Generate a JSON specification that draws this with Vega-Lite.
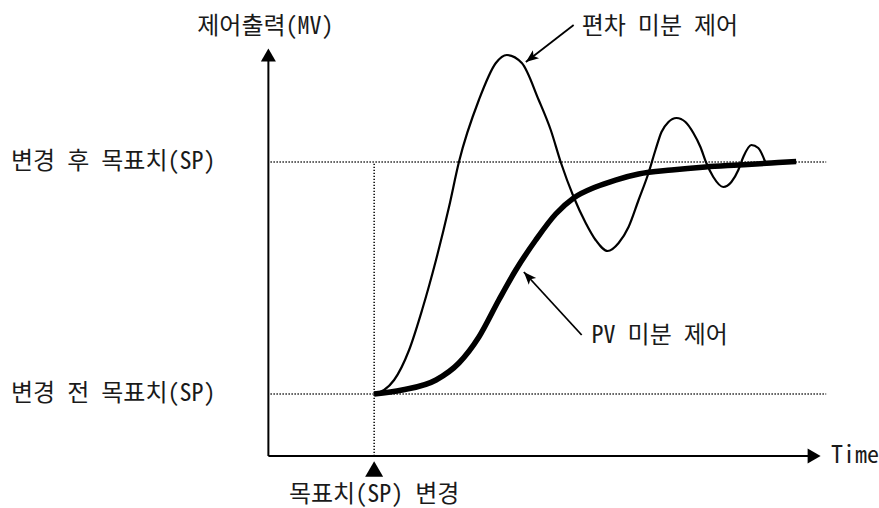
{
  "$schema": "https://vega.github.io/schema/vega-lite/v6.json",
  "width": 879,
  "height": 508,
  "autosize": {"type": "fit", "contains": "padding"},
  "padding": 0,
  "background": "white",
  "config": {
    "view": {"stroke": null},
    "text": {"font": "Noto Sans Mono CJK KR, Noto Sans CJK KR, sans-serif", "fontSize": 24, "fontWeight": 300, "color": "#1a1a1a"}
  },
  "datasets": {
    "curves": [
      {"series": "편차 미분 제어", "t": 10.02, "mv": 0},
      {"series": "편차 미분 제어", "t": 10.96, "mv": 1.72},
      {"series": "편차 미분 제어", "t": 11.91, "mv": 6.03},
      {"series": "편차 미분 제어", "t": 13.33, "mv": 18.97},
      {"series": "편차 미분 제어", "t": 14.56, "mv": 36.21},
      {"series": "편차 미분 제어", "t": 15.88, "mv": 57.76},
      {"series": "편차 미분 제어", "t": 17.11, "mv": 80.6},
      {"series": "편차 미분 제어", "t": 18.05, "mv": 100},
      {"series": "편차 미분 제어", "t": 19.94, "mv": 126.72},
      {"series": "편차 미분 제어", "t": 21.55, "mv": 142.67},
      {"series": "편차 미분 제어", "t": 22.59, "mv": 146.12},
      {"series": "편차 미분 제어", "t": 24.01, "mv": 142.67},
      {"series": "편차 미분 제어", "t": 25.61, "mv": 126.72},
      {"series": "편차 미분 제어", "t": 26.75, "mv": 113.79},
      {"series": "편차 미분 제어", "t": 27.69, "mv": 100},
      {"series": "편차 미분 제어", "t": 28.92, "mv": 84.91},
      {"series": "편차 미분 제어", "t": 30.06, "mv": 73.71},
      {"series": "편차 미분 제어", "t": 31.0, "mv": 66.38},
      {"series": "편차 미분 제어", "t": 32.14, "mv": 61.64},
      {"series": "편차 미분 제어", "t": 33.18, "mv": 65.09},
      {"series": "편차 미분 제어", "t": 34.12, "mv": 71.98},
      {"series": "편차 미분 제어", "t": 35.07, "mv": 83.62},
      {"series": "편차 미분 제어", "t": 36.01, "mv": 95.26},
      {"series": "편차 미분 제어", "t": 36.67, "mv": 105.17},
      {"series": "편차 미분 제어", "t": 37.24, "mv": 112.93},
      {"series": "편차 미분 제어", "t": 37.9, "mv": 117.24},
      {"series": "편차 미분 제어", "t": 38.66, "mv": 118.97},
      {"series": "편차 미분 제어", "t": 39.51, "mv": 117.24},
      {"series": "편차 미분 제어", "t": 40.26, "mv": 112.5},
      {"series": "편차 미분 제어", "t": 40.93, "mv": 106.47},
      {"series": "편차 미분 제어", "t": 41.49, "mv": 99.57},
      {"series": "편차 미분 제어", "t": 42.15, "mv": 93.53},
      {"series": "편차 미분 제어", "t": 43.1, "mv": 89.22},
      {"series": "편차 미분 제어", "t": 43.86, "mv": 91.38},
      {"series": "편차 미분 제어", "t": 44.52, "mv": 96.55},
      {"series": "편차 미분 제어", "t": 44.99, "mv": 102.16},
      {"series": "편차 미분 제어", "t": 45.75, "mv": 107.33},
      {"series": "편차 미분 제어", "t": 46.41, "mv": 106.03},
      {"series": "편차 미분 제어", "t": 47.07, "mv": 100},
      {"series": "PV 미분 제어", "t": 10.02, "mv": 0},
      {"series": "PV 미분 제어", "t": 12.67, "mv": 1.72},
      {"series": "PV 미분 제어", "t": 15.88, "mv": 6.03},
      {"series": "PV 미분 제어", "t": 18.05, "mv": 13.36},
      {"series": "PV 미분 제어", "t": 19.94, "mv": 24.57},
      {"series": "PV 미분 제어", "t": 21.83, "mv": 40.52},
      {"series": "PV 미분 제어", "t": 23.44, "mv": 53.45},
      {"series": "PV 미분 제어", "t": 25.33, "mv": 66.38},
      {"series": "PV 미분 제어", "t": 27.22, "mv": 77.59},
      {"series": "PV 미분 제어", "t": 28.92, "mv": 84.48},
      {"series": "PV 미분 제어", "t": 31.0, "mv": 89.22},
      {"series": "PV 미분 제어", "t": 32.89, "mv": 92.24},
      {"series": "PV 미분 제어", "t": 35.07, "mv": 94.83},
      {"series": "PV 미분 제어", "t": 38.19, "mv": 96.55},
      {"series": "PV 미분 제어", "t": 41.4, "mv": 97.84},
      {"series": "PV 미분 제어", "t": 44.52, "mv": 98.71},
      {"series": "PV 미분 제어", "t": 47.64, "mv": 99.57},
      {"series": "PV 미분 제어", "t": 50.0, "mv": 100.2}
    ],
    "levels": [
      {"label": "변경 후 목표치(SP)", "mv": 100},
      {"label": "변경 전 목표치(SP)", "mv": 0}
    ],
    "event": [
      {"label": "목표치(SP) 변경", "t": 10.02}
    ],
    "frame": [
      {"t": 0, "mv": -26.72}
    ],
    "notes": [
      {"label": "편차 미분 제어", "t": 29.68, "mv": 158.19, "from_t": 28.92, "from_mv": 159.05, "to_t": 24.39, "to_mv": 143.1},
      {"label": "PV 미분 제어", "t": 30.62, "mv": 25.0, "from_t": 29.68, "from_mv": 25.43, "to_t": 24.2, "to_mv": 52.59}
    ]
  },
  "layer": [
    {
      "data": {"name": "levels"},
      "mark": {"type": "rule", "color": "#000", "strokeWidth": 1.5, "strokeDash": [1.3, 1.7]},
      "encoding": {
        "x": {"datum": 0.2, "type": "quantitative", "scale": {"domain": [-25.425, 57.656], "nice": false, "zero": false}, "axis": null},
        "x2": {"datum": 52.84},
        "y": {"field": "mv", "type": "quantitative", "scale": {"domain": [-49.138, 169.828], "nice": false, "zero": false}, "axis": null}
      }
    },
    {
      "data": {"name": "levels"},
      "mark": {"type": "text", "align": "center", "baseline": "middle"},
      "encoding": {
        "x": {"datum": -14.7, "type": "quantitative", "scale": {"domain": [-25.425, 57.656], "nice": false, "zero": false}, "axis": null},
        "y": {"field": "mv", "type": "quantitative", "scale": {"domain": [-49.138, 169.828], "nice": false, "zero": false}, "axis": null},
        "text": {"field": "label"}
      }
    },
    {
      "data": {"name": "event"},
      "mark": {"type": "rule", "color": "#000", "strokeWidth": 1.5, "strokeDash": [1.3, 1.7]},
      "encoding": {
        "x": {"field": "t", "type": "quantitative", "scale": {"domain": [-25.425, 57.656], "nice": false, "zero": false}, "axis": null},
        "y": {"datum": -26.72, "type": "quantitative", "scale": {"domain": [-49.138, 169.828], "nice": false, "zero": false}, "axis": null},
        "y2": {"datum": 100}
      }
    },
    {
      "data": {"name": "frame"},
      "mark": {"type": "rule", "color": "#000", "strokeWidth": 2},
      "encoding": {
        "x": {"field": "t", "type": "quantitative", "scale": {"domain": [-25.425, 57.656], "nice": false, "zero": false}, "axis": null},
        "y": {"field": "mv", "type": "quantitative", "scale": {"domain": [-49.138, 169.828], "nice": false, "zero": false}, "axis": null},
        "y2": {"datum": 146}
      }
    },
    {
      "data": {"name": "frame"},
      "mark": {"type": "rule", "color": "#000", "strokeWidth": 2},
      "encoding": {
        "x": {"field": "t", "type": "quantitative", "scale": {"domain": [-25.425, 57.656], "nice": false, "zero": false}, "axis": null},
        "x2": {"datum": 51.7},
        "y": {"field": "mv", "type": "quantitative", "scale": {"domain": [-49.138, 169.828], "nice": false, "zero": false}, "axis": null}
      }
    },
    {
      "data": {"name": "frame"},
      "mark": {"type": "point", "shape": "triangle-up", "filled": true, "color": "#000", "size": 225, "opacity": 1},
      "encoding": {
        "x": {"field": "t", "type": "quantitative", "scale": {"domain": [-25.425, 57.656], "nice": false, "zero": false}, "axis": null},
        "y": {"datum": 146.12, "type": "quantitative", "scale": {"domain": [-49.138, 169.828], "nice": false, "zero": false}, "axis": null}
      }
    },
    {
      "data": {"name": "frame"},
      "mark": {"type": "point", "shape": "triangle-right", "filled": true, "color": "#000", "size": 225, "opacity": 1},
      "encoding": {
        "x": {"datum": 51.7, "type": "quantitative", "scale": {"domain": [-25.425, 57.656], "nice": false, "zero": false}, "axis": null},
        "y": {"field": "mv", "type": "quantitative", "scale": {"domain": [-49.138, 169.828], "nice": false, "zero": false}, "axis": null}
      }
    },
    {
      "data": {"name": "frame"},
      "mark": {"type": "text", "align": "left", "baseline": "middle"},
      "encoding": {
        "x": {"datum": 53.3, "type": "quantitative", "scale": {"domain": [-25.425, 57.656], "nice": false, "zero": false}, "axis": null},
        "y": {"field": "mv", "type": "quantitative", "scale": {"domain": [-49.138, 169.828], "nice": false, "zero": false}, "axis": null},
        "text": {"value": "Time"}
      }
    },
    {
      "data": {"name": "frame"},
      "mark": {"type": "text", "align": "center", "baseline": "middle"},
      "encoding": {
        "x": {"datum": -0.28, "type": "quantitative", "scale": {"domain": [-25.425, 57.656], "nice": false, "zero": false}, "axis": null},
        "y": {"datum": 158.19, "type": "quantitative", "scale": {"domain": [-49.138, 169.828], "nice": false, "zero": false}, "axis": null},
        "text": {"value": "제어출력(MV)"}
      }
    },
    {
      "data": {"name": "event"},
      "mark": {"type": "point", "shape": "triangle-up", "filled": true, "color": "#000", "size": 324, "opacity": 1},
      "encoding": {
        "x": {"field": "t", "type": "quantitative", "scale": {"domain": [-25.425, 57.656], "nice": false, "zero": false}, "axis": null},
        "y": {"datum": -32.33, "type": "quantitative", "scale": {"domain": [-49.138, 169.828], "nice": false, "zero": false}, "axis": null}
      }
    },
    {
      "data": {"name": "event"},
      "mark": {"type": "text", "align": "center", "baseline": "middle"},
      "encoding": {
        "x": {"field": "t", "type": "quantitative", "scale": {"domain": [-25.425, 57.656], "nice": false, "zero": false}, "axis": null},
        "y": {"datum": -43.5, "type": "quantitative", "scale": {"domain": [-49.138, 169.828], "nice": false, "zero": false}, "axis": null},
        "text": {"field": "label"}
      }
    },
    {
      "data": {"name": "curves"},
      "transform": [{"filter": "datum.series === '편차 미분 제어'"}],
      "mark": {"type": "line", "color": "#000", "strokeWidth": 2.2, "interpolate": "monotone"},
      "encoding": {
        "x": {"field": "t", "type": "quantitative", "scale": {"domain": [-25.425, 57.656], "nice": false, "zero": false}, "axis": null},
        "y": {"field": "mv", "type": "quantitative", "scale": {"domain": [-49.138, 169.828], "nice": false, "zero": false}, "axis": null}
      }
    },
    {
      "data": {"name": "curves"},
      "transform": [{"filter": "datum.series === 'PV 미분 제어'"}],
      "mark": {"type": "line", "color": "#000", "strokeWidth": 5.5, "interpolate": "monotone"},
      "encoding": {
        "x": {"field": "t", "type": "quantitative", "scale": {"domain": [-25.425, 57.656], "nice": false, "zero": false}, "axis": null},
        "y": {"field": "mv", "type": "quantitative", "scale": {"domain": [-49.138, 169.828], "nice": false, "zero": false}, "axis": null}
      }
    },
    {
      "data": {"name": "notes"},
      "mark": {"type": "rule", "color": "#000", "strokeWidth": 1.8},
      "encoding": {
        "x": {"field": "from_t", "type": "quantitative", "scale": {"domain": [-25.425, 57.656], "nice": false, "zero": false}, "axis": null},
        "y": {"field": "from_mv", "type": "quantitative", "scale": {"domain": [-49.138, 169.828], "nice": false, "zero": false}, "axis": null},
        "x2": {"field": "to_t"},
        "y2": {"field": "to_mv"}
      }
    },
    {
      "data": {"name": "notes"},
      "transform": [{"filter": "datum.label === '편차 미분 제어'"}],
      "mark": {"type": "point", "shape": "M0,0 L0.75,1.9 L0,1.45 L-0.75,1.9 Z", "filled": true, "color": "#000", "size": 180, "opacity": 1, "angle": 232.4},
      "encoding": {
        "x": {"field": "to_t", "type": "quantitative", "scale": {"domain": [-25.425, 57.656], "nice": false, "zero": false}, "axis": null},
        "y": {"field": "to_mv", "type": "quantitative", "scale": {"domain": [-49.138, 169.828], "nice": false, "zero": false}, "axis": null}
      }
    },
    {
      "data": {"name": "notes"},
      "transform": [{"filter": "datum.label === 'PV 미분 제어'"}],
      "mark": {"type": "point", "shape": "M0,0 L0.75,1.9 L0,1.45 L-0.75,1.9 Z", "filled": true, "color": "#000", "size": 180, "opacity": 1, "angle": 317.4},
      "encoding": {
        "x": {"field": "to_t", "type": "quantitative", "scale": {"domain": [-25.425, 57.656], "nice": false, "zero": false}, "axis": null},
        "y": {"field": "to_mv", "type": "quantitative", "scale": {"domain": [-49.138, 169.828], "nice": false, "zero": false}, "axis": null}
      }
    },
    {
      "data": {"name": "notes"},
      "mark": {"type": "text", "align": "left", "baseline": "middle"},
      "encoding": {
        "x": {"field": "t", "type": "quantitative", "scale": {"domain": [-25.425, 57.656], "nice": false, "zero": false}, "axis": null},
        "y": {"field": "mv", "type": "quantitative", "scale": {"domain": [-49.138, 169.828], "nice": false, "zero": false}, "axis": null},
        "text": {"field": "label"}
      }
    }
  ]
}
